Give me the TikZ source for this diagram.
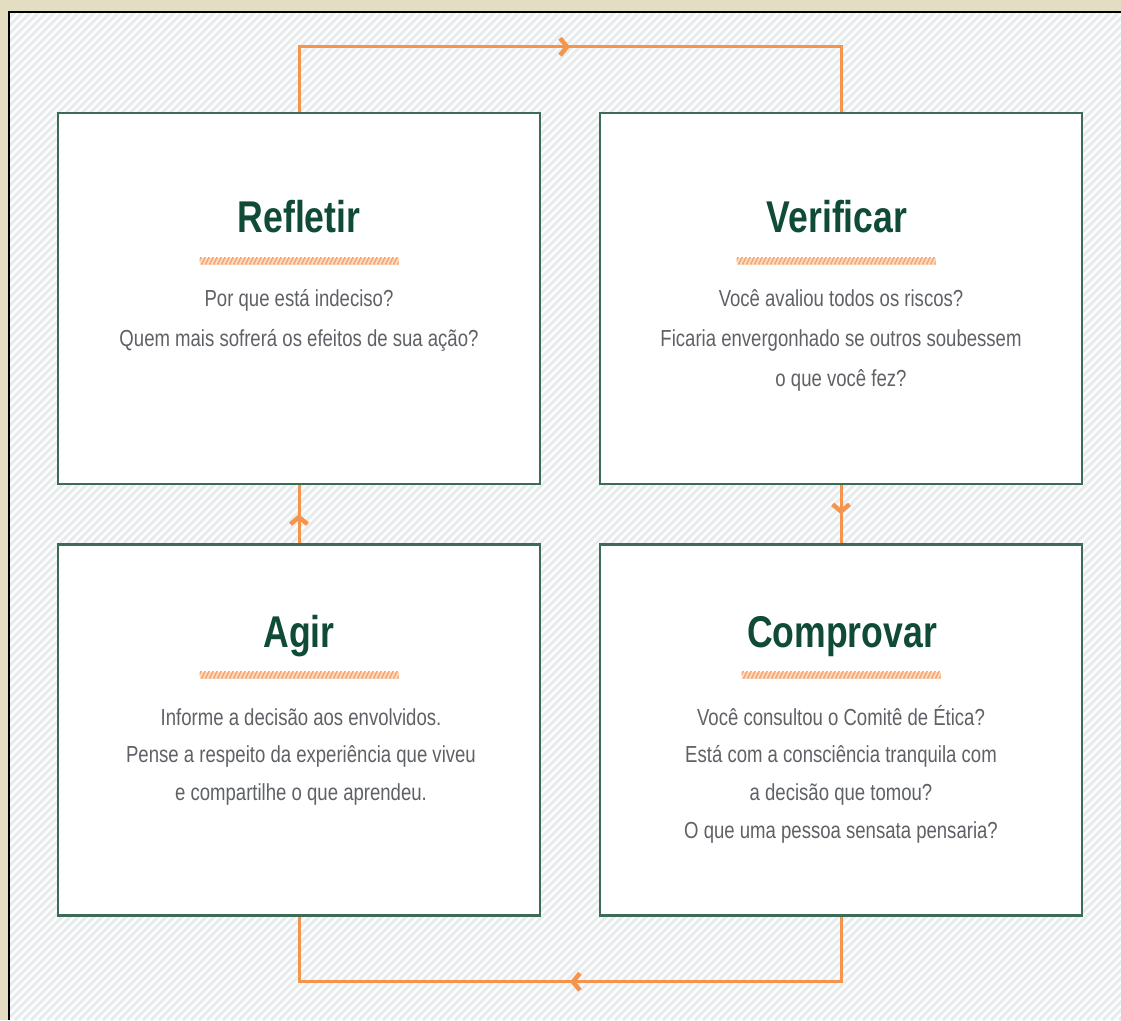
\documentclass[tikz,border=0pt]{standalone}
\usepackage{fontspec}
\setmainfont{Liberation Sans}[FakeStretch=0.8]
\usetikzlibrary{arrows.meta,decorations.markings}
\definecolor{beigebg}{HTML}{E3DDC1}
\definecolor{stripec}{HTML}{E7EBEB}
\definecolor{boxgreen}{HTML}{3C6B57}
\definecolor{titlegreen}{HTML}{0F4B37}
\definecolor{bodygray}{HTML}{5E6166}
\definecolor{connor}{HTML}{F5954D}
\definecolor{barlight}{HTML}{FDDCC4}
\definecolor{barstripe}{HTML}{F6A56C}
\begin{document}
\begin{tikzpicture}[x=1pt,y=-1pt,
  stepbox/.style={draw=boxgreen, line width=2.5pt, fill=white, minimum width=482pt, minimum height=371pt, inner sep=0pt},
  titletext/.style={anchor=base, text=titlegreen, font=\fontsize{44.5}{50}\selectfont\bfseries, inner sep=0pt},
  bodytop/.style={anchor=base, align=center, text=bodygray, font=\fontsize{23.2}{40}\selectfont, inner sep=0pt},
  bodybot/.style={anchor=base, align=center, text=bodygray, font=\fontsize{23.2}{37.7}\selectfont, inner sep=0pt},
  hatchbar/.style={minimum width=199pt, minimum height=7pt, inner sep=0pt, fill=barlight,
    path picture={\foreach \k in {0,...,52} \draw[barstripe, line width=1.5pt] ([xshift=\k*4pt-6pt]path picture bounding box.south west) -- ++(4,-8);}},
  conn/.style={draw=connor, line width=3pt, postaction={decorate},
    decoration={markings, mark=at position 0.5 with {\arrow[connor]{Straight Barb[length=7pt,width=17pt,line width=4.5pt]}}}}
]
\useasboundingbox (0,0) rectangle (1121,1020);
\fill[beigebg] (0,0) rectangle (1121,1020);
\fill[white] (9,12) rectangle (1121,1020);
\begin{scope}
  \clip (9,12) rectangle (1121,1020);
  \foreach \i in {0,...,270} \draw[stripec, line width=3pt] ({9+\i*8-1010},1020) -- ++(1010,-1010);
\end{scope}
\draw[black, line width=1.2pt] (9,1020) -- (9,12) -- (1121,12);

% boxes
\node[stepbox] (R) at (299,298.5) {};
\node[stepbox] (V) at (841,298.5) {};
\node[stepbox] (A) at (299,730) {};
\node[stepbox] (C) at (841,730) {};

% connectors
\draw[conn] (R.north) -- ++(0,-65) -| (V.north);
\draw[conn] (V.south) -- (C.north);
\draw[conn] (C.south) -- ++(0,65) -| (A.south);
\draw[conn] (A.north) -- (R.south);

% Refletir
\node[titletext] (Rt) at (299,232) {Refletir};
\node[hatchbar] (Rb) at (299,261) {};
\node[bodytop] (Rx) at (299,346) {Por que está indeciso?\\Quem mais sofrerá os efeitos de sua ação?};

% Verificar
\node[titletext] (Vt) at (837,232) {Verificar};
\node[hatchbar] (Vb) at (836,261) {};
\node[bodytop] (Vx) at (841,386) {Você avaliou todos os riscos?\\Ficaria envergonhado se outros soubessem\\o que você fez?};

% Agir
\node[titletext] (At) at (299,647) {Agir};
\node[hatchbar] (Ab) at (299,675) {};
\node[bodybot] (Ax) at (301,800.4) {Informe a decisão aos envolvidos.\\Pense a respeito da experiência que viveu\\e compartilhe o que aprendeu.};

% Comprovar
\node[titletext] (Ct) at (842,647) {Comprovar};
\node[hatchbar] (Cb) at (841,675) {};
\node[bodybot] (Cx) at (841,838.1) {Você consultou o Comitê de Ética?\\Está com a consciência tranquila com\\a decisão que tomou?\\O que uma pessoa sensata pensaria?};
\end{tikzpicture}
\end{document}
